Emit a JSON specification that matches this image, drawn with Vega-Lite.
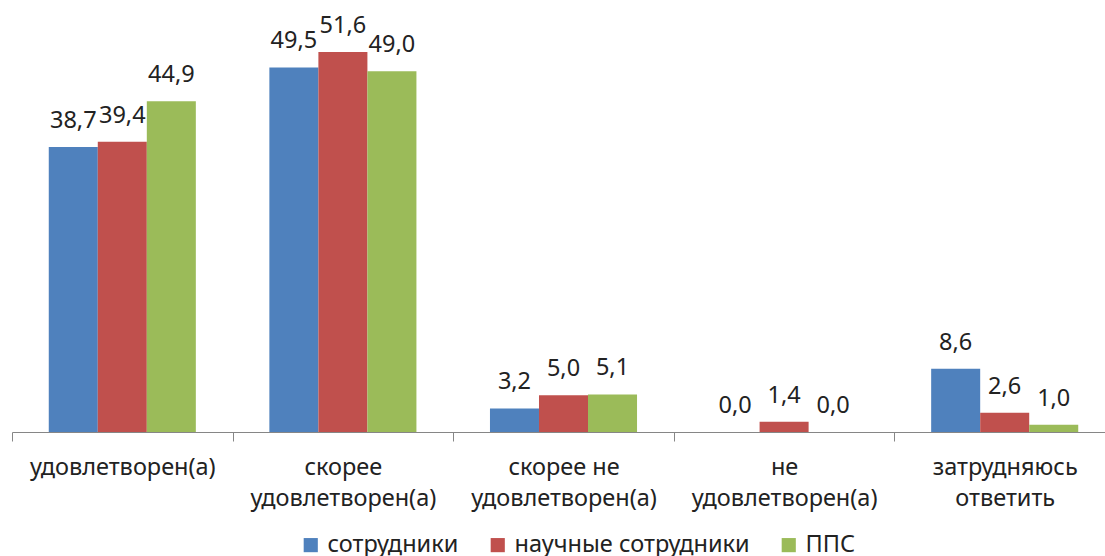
{
  "$schema": "https://vega.github.io/schema/vega-lite/v6.json",
  "width": 1103,
  "height": 422,
  "autosize": {"type": "none"},
  "padding": {"left": 12, "top": 10, "right": -10, "bottom": 124},
  "config": {
    "view": {"stroke": null},
    "font": "Noto Sans",
    "locale": {"number": {"decimal": ",", "thousands": " ", "grouping": [3], "currency": ["", ""]}}
  },
  "data": {
    "values": [
      {"cat": "удовлетворен(а)", "group": "сотрудники", "value": 38.7},
      {"cat": "удовлетворен(а)", "group": "научные сотрудники", "value": 39.4},
      {"cat": "удовлетворен(а)", "group": "ППС", "value": 44.9},
      {"cat": "скорее удовлетворен(а)", "group": "сотрудники", "value": 49.5},
      {"cat": "скорее удовлетворен(а)", "group": "научные сотрудники", "value": 51.6},
      {"cat": "скорее удовлетворен(а)", "group": "ППС", "value": 49.0},
      {"cat": "скорее не удовлетворен(а)", "group": "сотрудники", "value": 3.2},
      {"cat": "скорее не удовлетворен(а)", "group": "научные сотрудники", "value": 5.0},
      {"cat": "скорее не удовлетворен(а)", "group": "ППС", "value": 5.1},
      {"cat": "не удовлетворен(а)", "group": "сотрудники", "value": 0.0},
      {"cat": "не удовлетворен(а)", "group": "научные сотрудники", "value": 1.4},
      {"cat": "не удовлетворен(а)", "group": "ППС", "value": 0.0},
      {"cat": "затрудняюсь ответить", "group": "сотрудники", "value": 8.6},
      {"cat": "затрудняюсь ответить", "group": "научные сотрудники", "value": 2.6},
      {"cat": "затрудняюсь ответить", "group": "ППС", "value": 1.0}
    ]
  },
  "encoding": {
    "x": {
      "field": "cat", "type": "nominal", "sort": null,
      "scale": {"paddingInner": 0, "paddingOuter": 0},
      "axis": {
        "title": null, "labelAngle": 0, "labelFontSize": 23.5, "labelColor": "#222",
        "labelLineHeight": 31, "labelPadding": 14,
        "labelExpr": "datum.value == 'скорее удовлетворен(а)' ? ['скорее', 'удовлетворен(а)'] : datum.value == 'скорее не удовлетворен(а)' ? ['скорее не', 'удовлетворен(а)'] : datum.value == 'не удовлетворен(а)' ? ['не', 'удовлетворен(а)'] : datum.value == 'затрудняюсь ответить' ? ['затрудняюсь', 'ответить'] : datum.value",
        "tickBand": "extent", "tickSize": 9, "tickColor": "#868686", "domainColor": "#868686",
        "labelLimit": 0
      }
    },
    "xOffset": {"field": "group", "type": "nominal", "sort": null, "scale": {"paddingOuter": 0.75, "paddingInner": 0}},
    "y": {"field": "value", "type": "quantitative", "scale": {"domain": [0, 57.3]}, "axis": null}
  },
  "layer": [
    {
      "mark": {"type": "bar"},
      "encoding": {
        "color": {
          "field": "group", "type": "nominal", "sort": null,
          "scale": {"domain": ["сотрудники", "научные сотрудники", "ППС"], "range": ["#4F81BD", "#C0504D", "#9BBB59"]},
          "legend": {
            "title": null, "orient": "none", "legendX": 287, "legendY": 523, "direction": "horizontal",
            "symbolType": "square", "symbolSize": 200, "symbolStrokeWidth": 0,
            "labelFontSize": 23.5, "labelColor": "#222", "labelOffset": 5, "columnPadding": 27,
            "labelLimit": 0
          }
        }
      }
    },
    {
      "mark": {"type": "text", "baseline": "alphabetic", "dy": -19, "fontSize": 23.5, "color": "#222"},
      "encoding": {"text": {"field": "value", "type": "quantitative", "format": ".1f"}}
    }
  ]
}
